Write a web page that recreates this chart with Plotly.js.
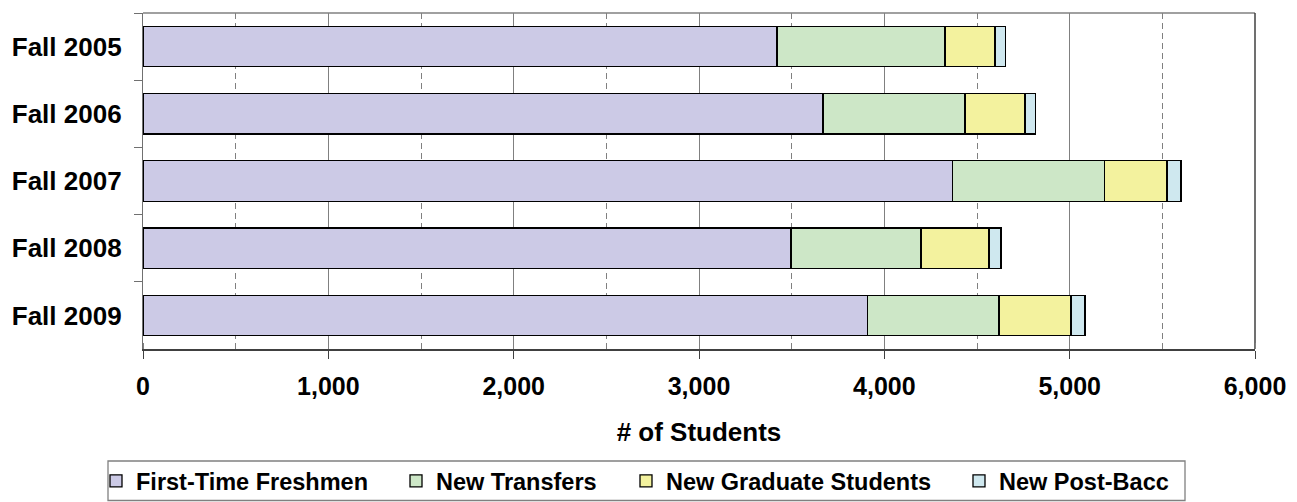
<!DOCTYPE html>
<html>
<head>
<meta charset="utf-8">
<script src="https://cdn.plot.ly/plotly-3.0.1.min.js"></script>
<style>html,body{margin:0;padding:0;background:#fff;}#chart{width:1297px;height:502px;}</style>
</head>
<body>
<div id="chart"></div>
<script>
const terms = ['Fall 2005', 'Fall 2006', 'Fall 2007', 'Fall 2008', 'Fall 2009'];
const freshmen = [3421, 3669, 4369, 3497, 3908];
const transfers = [906, 766, 820, 701, 711];
const graduate = [270, 324, 336, 367, 388];
const postBacc = [56, 56, 76, 65, 76];
const seriesNames = ['First-Time Freshmen', 'New Transfers', 'New Graduate Students', 'New Post-Bacc'];
const seriesColors = ['#CCCAE6', '#CDE7C7', '#F3F29E', '#CFE8EF'];
const seriesValues = [freshmen, transfers, graduate, postBacc];

const FONT = 'Liberation Sans, Arial, sans-serif';
const legendIds = ['legend', 'legend2', 'legend3', 'legend4'];
const legendX = [-0.04227, 0.22752, 0.43435, 0.73381];

const traces = seriesValues.map((vals, i) => ({
  type: 'bar',
  orientation: 'h',
  name: seriesNames[i],
  y: terms,
  x: vals,
  legend: legendIds[i],
  marker: {color: seriesColors[i], line: {color: '#000000', width: 1.3}},
  hoverinfo: 'x+y+name'
}));

const layout = {
  width: 1297,
  height: 502,
  barmode: 'stack',
  bargap: 0.4,
  paper_bgcolor: '#ffffff',
  plot_bgcolor: '#ffffff',
  margin: {l: 143, r: 42, t: 13, b: 153, autoexpand: false},
  font: {family: FONT, color: '#000000', size: 24, weight: 'bold'},
  showlegend: true,
  xaxis: {
    range: [0, 6000],
    dtick: 1000,
    tick0: 0,
    tickformat: ',d',
    showgrid: true,
    gridcolor: '#808080',
    gridwidth: 1.3,
    zeroline: false,
    showline: true,
    linecolor: '#404040',
    linewidth: 1.5,
    ticks: 'outside',
    ticklen: 8,
    tickcolor: '#404040',
    tickwidth: 1.3,
    ticklabelstandoff: 6,
    tickfont: {family: FONT, size: 25, weight: 'bold', color: '#000000'},
    minor: {dtick: 500, showgrid: true, gridcolor: '#808080', griddash: '6px,4px', gridwidth: 1.3,
            ticks: 'inside', ticklen: 6, tickcolor: '#808080'},
    title: {text: '# of Students', font: {family: FONT, size: 26, weight: 'bold', color: '#000000'}, standoff: 24}
  },
  yaxis: {
    type: 'category',
    categoryorder: 'array',
    categoryarray: terms,
    autorange: 'reversed',
    showgrid: false,
    showline: true,
    linecolor: '#707070',
    linewidth: 1.3,
    ticks: 'outside',
    tickson: 'boundaries',
    ticklen: 8,
    tickcolor: '#707070',
    tickwidth: 1.3,
    ticklabelstandoff: 15,
    tickfont: {family: FONT, size: 26, weight: 'bold', color: '#000000'}
  },
  shapes: [
    {type: 'line', xref: 'paper', yref: 'paper', x0: 0, x1: 1, y0: 1, y1: 1, line: {color: '#808080', width: 1.5}, layer: 'below'},
    {type: 'line', xref: 'paper', yref: 'paper', x0: 1, x1: 1, y0: 0, y1: 1, line: {color: '#404040', width: 1.5}, layer: 'below'},
    {type: 'rect', xref: 'paper', yref: 'paper', x0: -0.03147, x1: 0.93705, y0: -0.33333, y1: -0.4509,
     line: {color: '#808080', width: 1.3}, fillcolor: 'rgba(0,0,0,0)', layer: 'above'}
  ]
};

legendIds.forEach((id, i) => {
  layout[id] = {
    orientation: 'h',
    x: legendX[i], xanchor: 'left',
    y: -0.3274, yanchor: 'top',
    borderwidth: 0,
    bgcolor: 'rgba(0,0,0,0)',
    font: {family: FONT, size: 23.5, color: '#000000', weight: 'bold'},
    itemwidth: 30
  };
});

Plotly.newPlot('chart', traces, layout, {displayModeBar: false, responsive: false});
</script>
</body>
</html>
